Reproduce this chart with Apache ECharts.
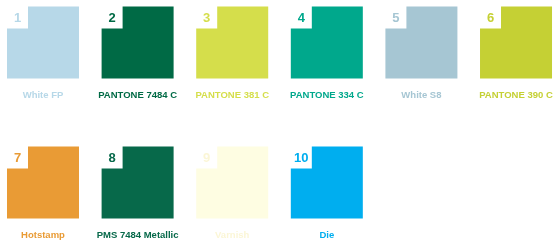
<!DOCTYPE html>
<html>
<head>
<meta charset="utf-8">
<script src="https://cdn.jsdelivr.net/npm/echarts@6/dist/echarts.min.js"></script>
<style>
    html, body { margin: 0; padding: 0; background: #fff; }
    #main { width: 555px; height: 241px; }
</style>
</head>
<body>
<div id="main"></div>
<script>
// swatch numbers, names and colours
var nums = ['1', '2', '3', '4', '5', '6', '7', '8', '9', '10'];
var names = ['White FP', 'PANTONE 7484 C', 'PANTONE 381 C', 'PANTONE 334 C', 'White S8',
    'PANTONE 390 C', 'Hotstamp', 'PMS 7484 Metallic', 'Varnish', 'Die'];
var swatchColors = ['#b7d8e8', '#006a45', '#d5de4b', '#00a88c', '#a6c6d3',
    '#c5d034', '#e99b35', '#07694a', '#fefde2', '#00aeef'];
var perRow = 6;

var data = nums.map(function (n, i) {
    return [i % perRow, Math.floor(i / perRow), i];
});

var myChart = echarts.init(document.getElementById('main'));
option = {
    animation: false,
    grid: { left: 0, right: 0, top: 0, bottom: 0 },
    xAxis: { type: 'value', min: -0.4545, max: 5.412, show: false },
    yAxis: { type: 'value', min: -0.3036, max: 1.418, inverse: true, show: false },
    series: [{
        type: 'custom',
        data: data,
        renderItem: function (params, api) {
            var i = api.value(2);
            var c = api.coord([api.value(0), api.value(1)]);
            var s = 72, nw = 21, nh = 22;
            var x0 = c[0] - s / 2, y0 = c[1] - s / 2;
            var col = swatchColors[i];
            return {
                type: 'group',
                children: [{
                    type: 'polygon',
                    shape: {
                        points: [[x0 + nw, y0], [x0 + s, y0], [x0 + s, y0 + s],
                            [x0, y0 + s], [x0, y0 + nh], [x0 + nw, y0 + nh]]
                    },
                    style: { fill: col }
                }, {
                    type: 'text',
                    style: {
                        x: x0 + nw / 2, y: y0 + nh / 2 + 1,
                        text: nums[i],
                        fill: i === 8 ? '#fbf6d6' : col,
                        font: 'bold 13px "Liberation Sans"',
                        align: 'center', verticalAlign: 'middle'
                    }
                }, {
                    type: 'text',
                    style: {
                        x: c[0], y: y0 + 89,
                        text: names[i],
                        fill: i === 8 ? '#fbf6d6' : col,
                        font: 'bold 9.5px "Liberation Sans"',
                        align: 'center', verticalAlign: 'middle'
                    }
                }]
            };
        }
    }]
};
myChart.setOption(option);
</script>
</body>
</html>
